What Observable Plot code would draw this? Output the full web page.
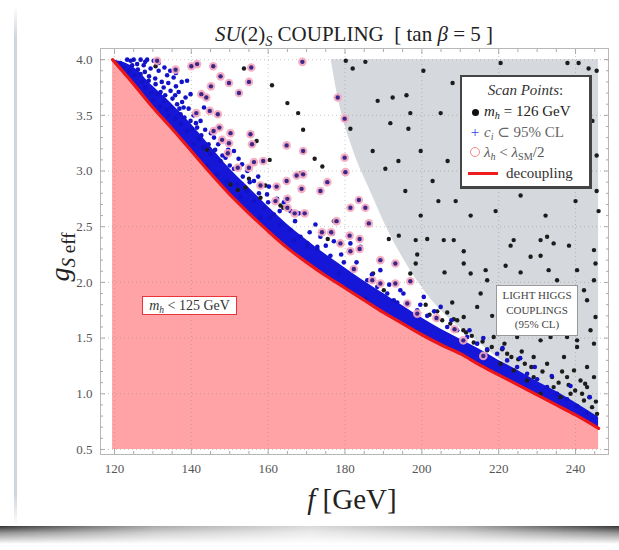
<!DOCTYPE html>
<html><head><meta charset="utf-8">
<script src="https://cdn.jsdelivr.net/npm/d3@7"></script>
<script src="https://cdn.jsdelivr.net/npm/@observablehq/plot@0.6"></script>
<style>
body{margin:0;background:#fff;}
#wrap{position:relative;width:619px;height:550px;overflow:hidden;font-family:"Liberation Serif","DejaVu Serif",serif;background:#fff;}
#chart{position:absolute;left:0;top:0;}
.abs{position:absolute;white-space:nowrap;}
sub{font-size:68%;vertical-align:baseline;position:relative;top:0.32em;}
#cardline{position:absolute;left:14px;top:6px;width:3px;height:520px;background:linear-gradient(to bottom,rgba(200,208,218,0),#cfd6de 6%,#cfd6de 94%,rgba(200,208,218,0));}
#shadow{position:absolute;left:0;top:526px;width:619px;height:18px;
 background:linear-gradient(to right,rgba(40,40,40,.95),rgba(110,110,110,.6) 25%,rgba(150,150,150,.35) 50%,rgba(110,110,110,.6) 75%,rgba(40,40,40,.95));
 -webkit-mask-image:linear-gradient(to bottom,#000,rgba(0,0,0,.5) 40%,transparent);}
#title{left:0;width:708px;top:22px;text-align:center;font-size:21px;color:#222;}
#ylab{left:60px;top:257px;transform:translate(-50%,-50%) rotate(-90deg);font-size:28px;color:#222;}
#xlab{left:0;width:704px;top:483px;text-align:center;font-size:29px;color:#222;}
#mhbox{left:142px;top:296px;width:93px;height:17px;border:1.5px solid #e8343a;background:#fff;font-size:14px;line-height:17px;text-align:center;color:#333;}
#lhbox{left:496px;top:285px;width:80px;height:47px;border:1px solid #999;background:#fff;font-size:11px;line-height:14.5px;text-align:center;color:#444;padding-top:2px;box-sizing:content-box;}
#legend{left:460px;top:75px;width:127px;height:109px;border:2px solid #444;border-right-width:3px;border-bottom-width:3px;background:#fff;font-size:15px;color:#333;}
#legend .row{position:absolute;left:0;height:20px;line-height:20px;}
#legend .sym{position:absolute;left:6px;width:14px;text-align:center;}
#legend .txt{position:absolute;left:22px;}
</style></head><body>
<div id="wrap">
<div id="cardline"></div>
<div id="shadow"></div>
<div id="chart"></div>
<div class="abs" id="title"><i>SU</i>(2)<sub><i>S</i></sub> COUPLING&nbsp; [ tan <i>β</i> = 5 ]</div>
<div class="abs" id="ylab"><i>g</i><sub><i>S</i> eff</sub></div>
<div class="abs" id="xlab"><i>f</i> [GeV]</div>
<div class="abs" id="mhbox"><i>m<sub>h</sub></i> &lt; 125 GeV</div>
<div class="abs" id="lhbox">LIGHT HIGGS<br>COUPLINGS<br>(95% CL)</div>
<div class="abs" id="legend">
  <div class="row" style="top:3px;width:127px;text-align:center;"><i>Scan Points</i>:</div>
  <div class="row" style="top:24px;width:127px;"><span class="sym"><span style="display:inline-block;width:7px;height:7px;border-radius:50%;background:#111;"></span></span><span class="txt" style="color:#222"><i>m<sub>h</sub></i> = 126 GeV</span></div>
  <div class="row" style="top:45px;width:127px;"><span class="sym" style="color:#3344dd;font-size:15px;">+</span><span class="txt" style="color:#666"><i>c<sub>i</sub></i> ⊂ 95% CL</span></div>
  <div class="row" style="top:65px;width:127px;"><span class="sym"><span style="display:inline-block;width:8px;height:8px;border-radius:50%;border:1.2px solid #ee8888;"></span></span><span class="txt" style="color:#555"><i>λ<sub>h</sub></i> &lt; <i>λ</i><sub>SM</sub>/2</span></div>
  <div class="row" style="top:86px;width:127px;"><span style="position:absolute;left:6px;top:9px;width:30px;height:3px;background:#ee1c1c;"></span><span class="txt" style="left:44px;color:#333">decoupling</span></div>
</div>
</div>
<script>
// ---- axis ticks ----
const xMajor = [120,140,160,180,200,220,240];
const xMinor = [125,130,135,145,150,155,165,170,175,185,190,195,205,210,215,225,230,235,245];
const yMajor = [0.5,1.0,1.5,2.0,2.5,3.0,3.5,4.0];
const yMinor = [0.6,0.7,0.8,0.9,1.1,1.2,1.3,1.4,1.6,1.7,1.8,1.9,2.1,2.2,2.3,2.4,2.6,2.7,2.8,2.9,3.1,3.2,3.3,3.4,3.6,3.7,3.8,3.9,4.0];
const xDomain = [116.36, 248.58];
const yDomain = [0.455, 4.1];
const gMin = 0.5, gMax = 4.0;

// ---- decoupling curve (m_h < 125 GeV boundary) ----
const decF = [119.5,125,130,135,140,145,150,155,160,165,170,175,180,185,190,195,200,205,210,215,220,225,230,235,240,246];
const decG = [4.00,3.78,3.57,3.38,3.18,2.98,2.79,2.62,2.46,2.31,2.18,2.06,1.95,1.84,1.73,1.63,1.53,1.44,1.36,1.26,1.17,1.08,0.99,0.90,0.81,0.69];
// upper edge of the dense blue band of c_i-compatible points
const bandTop = [4.00,3.93,3.76,3.60,3.42,3.22,3.02,2.85,2.68,2.52,2.38,2.25,2.13,2.01,1.90,1.79,1.68,1.58,1.49,1.40,1.30,1.21,1.11,1.02,0.92,0.79];

// ---- light Higgs couplings excluded region boundary ----
const grayF = [176.4,178,182.2,186.6,191.3,197,204.9,213.4,223.9,234.3,246];
const grayG = [4.0,3.69,3.18,2.82,2.46,2.11,1.75,1.50,1.21,0.97,0.79];

// ---- scan points ----
const blackPts = [
 [130.7,3.94],[153.7,3.92],[161.0,3.77],[165.0,3.61],[167.8,3.52],[169.1,3.37],[157.0,3.27],[160.4,3.10],
 [172.1,3.11],[174.1,3.04],[168.4,2.98],[159.3,2.87],[163.2,2.69],[163.9,2.67],[175.5,2.39],[177.1,2.55],
 [155.0,2.93],[154.1,2.85],[144.1,3.19],[143.2,3.21],[150.2,2.88],[152.1,2.83],[158.0,2.76],[181.4,3.38],
 [191.4,2.39],[187.3,2.08],[201.0,1.80],[204.0,1.74],[206.6,1.73],[210.8,1.57],[213.5,1.46],[208.3,1.67],
 [190.1,1.93],[197.0,2.08],
 [194.0,2.42],[198.4,2.38],[201.4,2.39],[205.7,2.38],[208.3,2.38],[210.9,2.28],[198.8,2.25],[198.4,2.17],
 [205.9,2.09],[210.9,2.17],[212.7,2.08],[216.6,2.11],[217.0,2.02],[215.3,1.90],[214.4,1.78],[207.9,1.82],
 [209.2,1.66],[210.9,1.69],[218.3,1.70],[221.8,2.15],[223.1,2.33],[223.9,2.38],[225.7,2.09],[228.3,2.23],
 [230.9,2.24],[233.0,2.11],[230.9,2.38],[232.6,2.41],[234.3,2.35],[238.3,2.33],[235.2,2.02],[240.4,2.11],
 [242.2,1.93],[243.0,1.84],[244.8,2.29],[245.2,2.17],[244.8,2.02],[245.2,1.69],[243.9,1.57],[240.4,1.48],
 [237.8,1.51],[233.5,1.51],[230.9,1.48],[224.8,1.51],[222.2,1.36],[229.1,1.33],[232.6,1.27],[237.0,1.33],
 [239.6,1.21],[241.3,1.12],[243.0,1.06],[244.8,1.15],[234.3,1.06],[229.1,1.15],[223.9,1.21],[220.5,1.27],
 [217.0,1.39],[218.7,1.51],[238.7,1.00],[242.2,0.94],[244.3,0.88],[245.6,0.82],[236.1,0.97],[230.9,1.00],
 [240.4,1.42],[244.8,1.45],[243.0,1.24],[227.4,1.12],[237.8,1.15],
 [202.0,1.71],[205.3,1.66],[207.4,1.63],[211.5,1.55],[213.0,1.52],[215.8,1.47],[218.2,1.42],[220.9,1.40],
 [223.3,1.33],[225.1,1.31],[226.8,1.27],[228.5,1.24],[231.4,1.20],[233.9,1.15],[235.6,1.10],[238.2,1.08],
 [239.9,1.03],[241.7,1.00],[243.6,0.97],[245.3,0.93],[221.5,1.45],[226.0,1.38],[236.5,1.20],[242.5,1.09],
 [180.2,3.99],[182.0,3.92],[185.3,3.98],[200.4,3.90],[220.5,3.97],[237.9,3.97],[240.8,3.97],[243.4,3.92],
 [245.5,3.90],[188.5,3.63],[192.4,3.66],[196.0,3.68],[197.0,3.52],[196.5,3.38],[191.8,3.43],[204.9,3.52],
 [208.0,3.79],[187.2,3.18],[190.5,3.02],[193.9,3.09],[199.7,3.18],[202.8,2.91],[206.7,3.09],[244.4,3.45],
 [245.5,3.14],[245.5,2.82],[246.0,2.64],[208.8,2.73],[212.7,2.60],[219.2,2.64],[225.7,2.78],[232.2,2.60],
 [240.0,2.73],[199.7,2.60],[204.3,2.73],[195.7,2.82]
];
const bluePts = [
 [123.3,4.0],[125.0,4.0],[126.8,4.0],[128.5,4.0],[130.2,3.99],[124.2,3.99],[125.9,3.96],[127.6,3.95],
 [129.4,3.92],[131.5,3.90],[133.7,3.86],[135.4,3.84],[126.8,3.87],[128.9,3.81],[130.7,3.78],[132.8,3.75],
 [134.6,3.72],[136.7,3.71],[138.5,3.66],[138.0,3.57],[136.3,3.60],[131.1,3.69],[132.8,3.63],[134.6,3.57],
 [137.2,3.51],[139.8,3.45],[141.5,3.39],[137.2,3.42],[138.9,3.36],[141.9,3.29],[143.3,3.21],[140.7,3.24],
 [145.0,3.15],[147.6,3.09],[151.1,3.02],[144.1,3.05],[146.7,2.97],[149.3,2.91],[151.9,2.88],[154.5,2.82],
 [152.8,2.77],[156.3,2.73],[158.9,2.67],[161.5,2.61],[158.0,2.58],[163.2,2.52],[165.8,2.47],[168.4,2.41],
 [166.7,2.38],[170.2,2.35],[172.8,2.32],[138.9,3.81],[139.8,3.69],[143.3,3.57],[142.4,3.45],[145.9,3.30],
 [148.9,3.12],[151.1,3.18],[153.2,3.06],[156.3,2.91],[159.7,2.79],[162.3,2.75],[165.8,2.64],[160.6,2.58],
 [173.6,2.41],[177.1,2.37],[181.4,2.35],[184.0,2.32],
 [170.2,2.32],[172.8,2.30],[176.2,2.24],[179.7,2.18],[182.3,2.11],[185.8,2.02],[188.4,1.96],[191.0,1.90],
 [193.6,1.82],[196.2,1.81],[198.8,1.75],[201.4,1.70],[204.0,1.67],[206.6,1.60],[209.2,1.57],[211.8,1.51],
 [214.4,1.45],[217.0,1.40],[219.6,1.36],[222.2,1.30],[224.8,1.24],[227.4,1.18],[230.0,1.13],[232.6,1.06],
 [235.2,1.00],[237.8,0.95],[240.4,0.89],[243.0,0.83],[178.4,2.08],[189.2,2.11],[194.4,1.93],[200.5,1.87],
 [204.9,1.78],[192.7,1.84],[185.3,1.85],
 [121.5,3.97],[122.4,3.93],[123.8,3.90],[125.2,3.86],[127.2,3.80],[128.0,3.75],[129.6,3.70],[130.1,3.64],
 [131.9,3.58],[133.5,3.55],[134.0,3.50],[135.8,3.47],[124.6,3.95],[126.1,3.91],[127.9,3.89],[129.0,3.85],
 [130.6,3.83],[132.3,3.80],[133.2,3.68],[135.1,3.65],[136.9,3.56],[138.2,3.48],[140.1,3.38],[142.6,3.32],
 [144.5,3.24],[146.2,3.19],[148.1,3.14],[150.0,3.05],[153.4,2.95],[155.2,2.90],[157.6,2.80],[160.0,2.72],
 [163.0,2.64],[167.0,2.55],[170.8,2.45],[175.0,2.33],[179.0,2.25],[183.0,2.18],[187.0,2.07],[191.5,1.98],
 [195.2,1.90],[199.6,1.80],[203.2,1.74],[207.7,1.66],[212.4,1.57],[216.0,1.50],[221.0,1.41],[225.6,1.32],
 [229.4,1.24],[233.8,1.16],[238.7,1.07],[243.7,0.97],
 [128.0,3.98],[131.5,3.97],[133.0,3.93],[134.5,3.90],[136.0,3.88],[137.5,3.80],[136.0,3.76],[134.0,3.79],
 [132.0,3.71],[135.8,3.68],[137.6,3.62],[139.3,3.56],[140.6,3.50],[141.2,3.43],[143.6,3.37],[145.1,3.34],
 [147.0,3.24],[149.6,3.19],[152.3,3.11],[154.6,3.00],[157.4,2.95],[160.2,2.86],[164.1,2.72],[168.0,2.62],
 [172.3,2.52],[176.8,2.44]
];
const pinkPts = [
 [131.1,3.99],[135.9,3.91],[140.0,3.94],[141.5,3.96],[145.7,3.94],[147.6,3.85],[149.8,3.79],[155.6,3.93],
 [155.0,3.80],[152.4,3.70],[145.1,3.76],[142.6,3.69],[143.9,3.66],[141.3,3.52],[144.8,3.54],[146.9,3.51],
 [147.3,3.39],[145.8,3.36],[150.2,3.34],[148.0,3.28],[149.8,3.25],[149.5,3.16],[155.4,3.33],[155.8,3.24],
 [152.1,3.03],[155.0,3.03],[156.3,3.08],[158.7,3.09],[158.0,2.87],[162.2,2.86],[164.8,2.91],[164.8,3.23],
 [169.1,3.18],[168.9,3.98],[167.4,2.96],[169.1,2.97],[168.7,2.84],[165.0,2.75],[161.9,2.73],[165.0,2.67],
 [166.9,2.62],[169.5,2.62],[173.6,2.82],[175.4,2.90],[178.1,3.66],[179.9,3.47],[179.9,3.12],[180.1,2.99],
 [177.8,2.55],[181.4,2.67],[183.6,2.74],[185.3,2.67],[186.2,2.53],[176.4,2.45],[174.0,2.45],[181.2,2.42],
 [178.8,2.35],[183.8,2.39],[181.4,2.28],[183.8,2.30],[182.3,2.12],[187.1,2.02],[189.2,2.20],[189.2,1.99],
 [193.1,2.17],[193.1,1.99],[197.0,2.01],[196.2,1.81],[198.8,1.72],[203.8,1.68],[208.5,1.58],[210.8,1.48],
 [216.0,1.34]
];

const idx = decF.map((_, i) => i);
const gIdx = grayF.map((_, i) => i);
const pf = d => d[0], pg = d => d[1];

const chart = Plot.plot({
  width: 619, height: 550,
  marginLeft: 100, marginRight: 11, marginTop: 48, marginBottom: 96,
  style: {fontFamily: "'Liberation Serif', serif", fontSize: "13px", color: "#555", background: "transparent", overflow: "visible"},
  x: {domain: xDomain},
  y: {domain: yDomain},
  marks: [
    Plot.areaY(gIdx, {x: grayF, y1: grayG, y2: gMax, fill: "#d5d8dc", curve: "monotone-x"}),
    Plot.areaY(idx, {x: decF, y1: gMin, y2: decG, fill: "#ffa3a6", curve: "monotone-x"}),
    Plot.gridX({ticks: xMajor, stroke: "#888", strokeOpacity: 0.45, strokeDasharray: "1,3"}),
    Plot.gridY({ticks: yMajor, stroke: "#888", strokeOpacity: 0.45, strokeDasharray: "1,3"}),
    Plot.areaY(idx, {x: decF, y1: decG, y2: bandTop, fill: "#1616d8", curve: "monotone-x"}),
    Plot.dot(blackPts, {x: pf, y: pg, r: 2.2, fill: "#1c1c1c"}),
    Plot.dot(bluePts, {x: pf, y: pg, r: 2.3, fill: "#1212c8"}),
    Plot.dot(pinkPts, {x: pf, y: pg, r: 4.3, fill: "#f4a6bf", fillOpacity: 0.9}),
    Plot.dot(pinkPts, {x: pf, y: pg, r: 2.2, fill: "#3b2788"}),
    Plot.line(idx, {x: decF, y: decG, stroke: "#ec1518", strokeWidth: 3.2, curve: "monotone-x"}),
    Plot.frame({stroke: "#b8b8b8"}),
    Plot.axisX({anchor: "bottom", ticks: xMajor, tickSize: 0, tickPadding: 9, label: null, fill: "#555"}),
    Plot.axisY({anchor: "left", ticks: yMajor, tickSize: 0, tickPadding: 8, tickFormat: d3.format(".1f"), label: null, fill: "#555"}),
    Plot.axisX({anchor: "bottom", ticks: xMajor, tickSize: -5, tickFormat: () => "", label: null, stroke: "#aaa"}),
    Plot.axisX({anchor: "bottom", ticks: xMinor, tickSize: -3, tickFormat: () => "", label: null, stroke: "#aaa"}),
    Plot.axisX({anchor: "top", ticks: xMajor, tickSize: -5, tickFormat: () => "", label: null, stroke: "#aaa"}),
    Plot.axisX({anchor: "top", ticks: xMinor, tickSize: -3, tickFormat: () => "", label: null, stroke: "#aaa"}),
    Plot.axisY({anchor: "left", ticks: yMajor, tickSize: -5, tickFormat: () => "", label: null, stroke: "#aaa"}),
    Plot.axisY({anchor: "left", ticks: yMinor, tickSize: -3, tickFormat: () => "", label: null, stroke: "#aaa"}),
    Plot.axisY({anchor: "right", ticks: yMajor, tickSize: -5, tickFormat: () => "", label: null, stroke: "#aaa"}),
    Plot.axisY({anchor: "right", ticks: yMinor, tickSize: -3, tickFormat: () => "", label: null, stroke: "#aaa"})
  ]
});
document.getElementById("chart").appendChild(chart);
</script>
</body></html>
